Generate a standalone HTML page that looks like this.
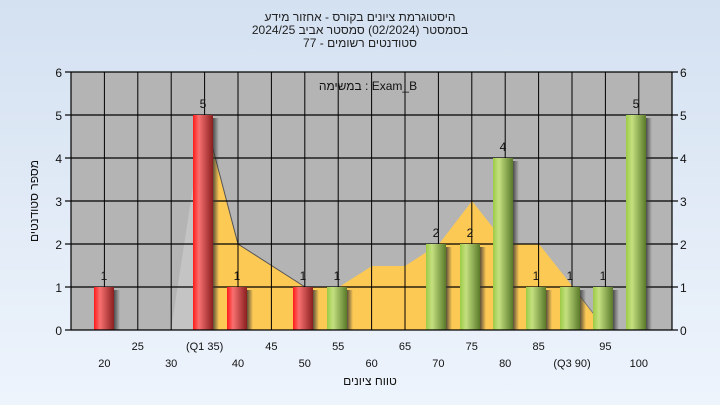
<!DOCTYPE html>
<html><head><meta charset="utf-8"><style>
body{margin:0;width:720px;height:405px;overflow:hidden;font-family:"Liberation Sans","Noto Sans CJK SC",sans-serif}
</style></head><body>
<svg width="720" height="405" xmlns="http://www.w3.org/2000/svg" font-family="Liberation Sans, DejaVu Sans, sans-serif">
<defs>
<linearGradient id="bg" x1="0" y1="0" x2="0" y2="1"><stop offset="0" stop-color="#d4e1f1"/><stop offset="1" stop-color="#eef4fc"/></linearGradient>
<linearGradient id="red" x1="0" x2="1"><stop offset="0" stop-color="#ff1a1a"/><stop offset="0.3" stop-color="#f87070"/><stop offset="1" stop-color="#8a1f1f"/></linearGradient>
<linearGradient id="grn" x1="0" x2="1"><stop offset="0" stop-color="#9ccb45"/><stop offset="0.3" stop-color="#c4e080"/><stop offset="1" stop-color="#5a7a2a"/></linearGradient>
<linearGradient id="sh" x1="0" x2="1"><stop offset="0" stop-color="#333" stop-opacity="0.8"/><stop offset="1" stop-color="#333" stop-opacity="0"/></linearGradient>
</defs>
<rect width="720" height="405" fill="url(#bg)"/>
<g font-size="12" text-anchor="middle" fill="#222">
<text x="360" y="21">היסטוגרמת ציונים בקורס - אחזור מידע</text>
<text x="360" y="34">בסמסטר  (02/2024)  סמסטר אביב 2024/25</text>
<text x="360" y="47">סטודנטים רשומים - 77</text>
</g>
<rect x="71" y="72" width="601" height="258" fill="#b4b4b4"/>
<polygon points="171,330 204,115 204,330" fill="#c4c4c4"/>
<polygon points="204,115 238,244 305,287 339,287 372,266 405,266 439,244 472,201 506,244 539,244 573,287 606,330 204,330" fill="#fdc955"/>
<polyline points="204,115 238,244 305,287" fill="none" stroke="#555" stroke-width="1"/>
<polyline points="573,287 606,330 639,330" fill="none" stroke="#777" stroke-width="1"/>
<g stroke="#000" stroke-width="1.2">
<line x1="71" y1="72" x2="672" y2="72"/><line x1="71" y1="115" x2="672" y2="115"/><line x1="71" y1="158" x2="672" y2="158"/><line x1="71" y1="201" x2="672" y2="201"/><line x1="71" y1="244" x2="672" y2="244"/><line x1="71" y1="287" x2="672" y2="287"/>
</g>
<g stroke="#000" stroke-width="1">
<line x1="104.4" y1="72" x2="104.4" y2="330"/><line x1="137.8" y1="72" x2="137.8" y2="330"/><line x1="171.2" y1="72" x2="171.2" y2="330"/><line x1="204.6" y1="72" x2="204.6" y2="330"/><line x1="238" y1="72" x2="238" y2="330"/><line x1="271.4" y1="72" x2="271.4" y2="330"/><line x1="304.8" y1="72" x2="304.8" y2="330"/><line x1="338.2" y1="72" x2="338.2" y2="330"/><line x1="371.6" y1="72" x2="371.6" y2="330"/><line x1="405" y1="72" x2="405" y2="330"/><line x1="438.4" y1="72" x2="438.4" y2="330"/><line x1="471.8" y1="72" x2="471.8" y2="330"/><line x1="505.2" y1="72" x2="505.2" y2="330"/><line x1="538.6" y1="72" x2="538.6" y2="330"/><line x1="572" y1="72" x2="572" y2="330"/><line x1="605.4" y1="72" x2="605.4" y2="330"/><line x1="638.8" y1="72" x2="638.8" y2="330"/>
</g>
<g fill="url(#sh)">
<rect x="114" y="290" width="6" height="40"/><rect x="213" y="118" width="6" height="212"/><rect x="247" y="290" width="6" height="40"/><rect x="313" y="290" width="6" height="40"/><rect x="347" y="290" width="6" height="40"/><rect x="446" y="247" width="6" height="83"/><rect x="480" y="247" width="6" height="83"/><rect x="513" y="161" width="6" height="169"/><rect x="546" y="290" width="6" height="40"/><rect x="580" y="290" width="6" height="40"/><rect x="613" y="290" width="6" height="40"/><rect x="646" y="118" width="6" height="212"/>
</g>
<g fill="url(#red)">
<rect x="94" y="287" width="20" height="43"/><rect x="193" y="115" width="20" height="215"/><rect x="227" y="287" width="20" height="43"/><rect x="293" y="287" width="20" height="43"/>
</g>
<g fill="url(#grn)">
<rect x="327" y="287" width="20" height="43"/><rect x="426" y="244" width="20" height="86"/><rect x="460" y="244" width="20" height="86"/><rect x="493" y="158" width="20" height="172"/><rect x="526" y="287" width="20" height="43"/><rect x="560" y="287" width="20" height="43"/><rect x="593" y="287" width="20" height="43"/><rect x="626" y="115" width="20" height="215"/>
</g>
<g font-size="12" text-anchor="middle" fill="#111">
<text x="104" y="280">1</text><text x="203" y="108">5</text><text x="237" y="280">1</text><text x="303" y="280">1</text><text x="337" y="280">1</text><text x="436" y="237">2</text><text x="470" y="237">2</text><text x="503" y="151">4</text><text x="536" y="280">1</text><text x="570" y="280">1</text><text x="603" y="280">1</text><text x="636" y="108">5</text>
<text x="368" y="90">במשימה : Exam_B</text>
</g>
<g stroke="#000" stroke-width="1.2">
<line x1="71" y1="72" x2="71" y2="330"/><line x1="672" y1="72" x2="672" y2="330"/><line x1="71" y1="330" x2="672" y2="330"/>
<line x1="65" y1="72" x2="71" y2="72"/><line x1="65" y1="115" x2="71" y2="115"/><line x1="65" y1="158" x2="71" y2="158"/><line x1="65" y1="201" x2="71" y2="201"/><line x1="65" y1="244" x2="71" y2="244"/><line x1="65" y1="287" x2="71" y2="287"/><line x1="65" y1="330" x2="71" y2="330"/>
<line x1="672" y1="72" x2="678" y2="72"/><line x1="672" y1="115" x2="678" y2="115"/><line x1="672" y1="158" x2="678" y2="158"/><line x1="672" y1="201" x2="678" y2="201"/><line x1="672" y1="244" x2="678" y2="244"/><line x1="672" y1="287" x2="678" y2="287"/><line x1="672" y1="330" x2="678" y2="330"/>
</g>
<g font-size="12" fill="#111">
<g text-anchor="end"><text x="62" y="77">6</text><text x="62" y="120">5</text><text x="62" y="163">4</text><text x="62" y="206">3</text><text x="62" y="249">2</text><text x="62" y="292">1</text><text x="62" y="335">0</text></g>
<g><text x="680" y="77">6</text><text x="680" y="120">5</text><text x="680" y="163">4</text><text x="680" y="206">3</text><text x="680" y="249">2</text><text x="680" y="292">1</text><text x="680" y="335">0</text></g>
</g>
<g font-size="11" text-anchor="middle" fill="#111">
<text x="137.8" y="350">25</text><text x="204.6" y="350">(Q1 35)</text><text x="271.4" y="350">45</text><text x="338.2" y="350">55</text><text x="405" y="350">65</text><text x="471.8" y="350">75</text><text x="538.6" y="350">85</text><text x="605.4" y="350">95</text>
<text x="104.4" y="367">20</text><text x="171.2" y="367">30</text><text x="238" y="367">40</text><text x="304.8" y="367">50</text><text x="371.6" y="367">60</text><text x="438.4" y="367">70</text><text x="505.2" y="367">80</text><text x="572" y="367">(Q3 90)</text><text x="638.8" y="367">100</text>
<text x="370" y="385" font-size="12">טווח ציונים</text>
<text transform="translate(38,201) rotate(-90)" font-size="12">מספר סטודנטים</text>
</g>
</svg>
</body></html>
